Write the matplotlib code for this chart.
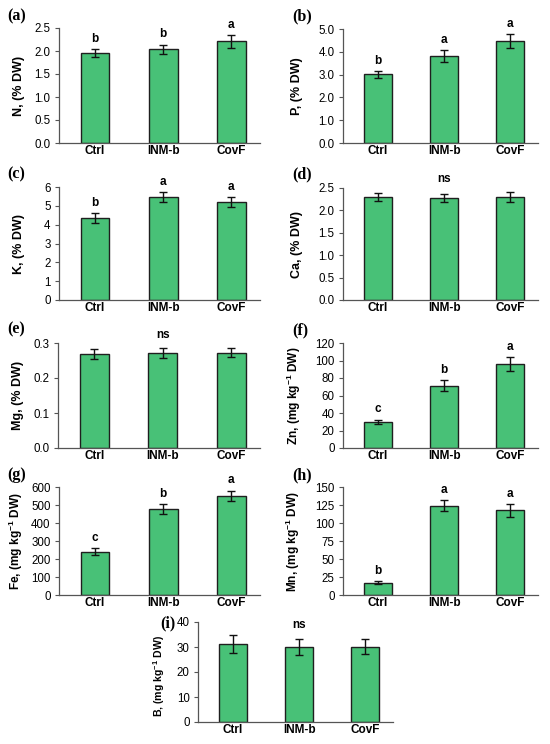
import matplotlib
matplotlib.use("Agg")
import matplotlib.pyplot as plt
from matplotlib.ticker import MultipleLocator, FormatStrFormatter

plt.rcParams['font.family'] = ['Liberation Sans', 'DejaVu Sans']
plt.rcParams['mathtext.fontset'] = 'custom'
plt.rcParams['mathtext.rm'] = 'Liberation Sans'
plt.rcParams['mathtext.bf'] = 'Liberation Sans:bold'

categories = ["Ctrl", "INM-b", "CovF"]

N_mean = [1.95, 2.04, 2.21]
N_sd = [0.085, 0.10, 0.14]
N_let = ["b", "b", "a"]

P_mean = [3.01, 3.82, 4.46]
P_sd = [0.14, 0.26, 0.30]
P_let = ["b", "a", "a"]

K_mean = [4.35, 5.47, 5.19]
K_sd = [0.27, 0.25, 0.27]
K_let = ["b", "a", "a"]

Ca_mean = [2.30, 2.28, 2.29]
Ca_sd = [0.09, 0.095, 0.11]

Mg_mean = [0.268, 0.272, 0.272]
Mg_sd = [0.014, 0.014, 0.013]

Zn_mean = [29.7, 71.2, 96.0]
Zn_sd = [2.8, 6.0, 8.0]
Zn_let = ["c", "b", "a"]

Fe_mean = [241.6, 479.5, 552.0]
Fe_sd = [18.0, 27.0, 28.0]
Fe_let = ["c", "b", "a"]

Mn_mean = [17.2, 124.0, 117.5]
Mn_sd = [2.5, 7.7, 8.7]
Mn_let = ["b", "a", "a"]

B_mean = [31.4, 30.1, 30.1]
B_sd = [3.6, 3.3, 3.0]

W, H = 550, 744
fig = plt.figure(figsize=(W / 100, H / 100), dpi=100)

bar_color = "#48C177"
edge_color = "#1f1f1f"
axis_color = "#555555"

unit = r" (mg kg$^{\mathbf{-1}}$ DW)"
# label, axes px box, mean, sd, letters, ylabel, ylabel size, ylabel offset px, ylabel y frac,
# ymax, step, fmt, panel label px, ns offset px
panels = [
    ("(a)", (59, 28, 260, 143), N_mean, N_sd, N_let, "N, (% DW)", 9, 34, 0.5, 2.5, 0.5, "%.1f", (7, 16), None),
    ("(b)", (343, 29, 538, 143), P_mean, P_sd, P_let, "P, (% DW)", 9, 40, 0.5, 5.0, 1.0, "%.1f", (292, 16), None),
    ("(c)", (59, 187, 260, 300), K_mean, K_sd, K_let, "K, (% DW)", 9, 34, 0.5, 6, 1, "%d", (7, 174), None),
    ("(d)", (343, 188, 538, 300), Ca_mean, Ca_sd, None, "Ca, (% DW)", 9, 40, 0.5, 2.5, 0.5, "%.1f", (292, 174), 9),
    ("(e)", (58, 343, 260, 448), Mg_mean, Mg_sd, None, "Mg, (% DW)", 9, 34, 0.5, 0.3, 0.1, "%.1f", (7, 329), 8),
    ("(f)", (343, 343, 538, 448), Zn_mean, Zn_sd, Zn_let, "Zn," + unit, 8.6, 40, 0.5, 120, 20, "%d", (292, 330), None),
    ("(g)", (59, 487, 260, 595), Fe_mean, Fe_sd, Fe_let, "Fe," + unit, 8.6, 34, 0.5, 600, 100, "%d", (7, 475), None),
    ("(h)", (343, 487, 538, 595), Mn_mean, Mn_sd, Mn_let, "Mn," + unit, 8.6, 41, 0.5, 150, 25, "%d", (292, 475), None),
    ("(i)", (198, 622, 393, 722), B_mean, B_sd, None, "B," + unit, 7.6, 31, 0.46, 40, 10, "%d", (160, 623), -3),
]

x = list(range(len(categories)))
for (lab, (l, t, r, b), mean, sd, lets, ylabel, ysize, yoff, yfrac,
     ymax, step, fmt, (lx, ly), nsoff) in panels:
    ax = fig.add_axes([l / W, 1 - b / H, (r - l) / W, (b - t) / H])
    ax.bar(x, mean, width=0.42, color=bar_color, edgecolor=edge_color, linewidth=1.0, zorder=2)
    ax.errorbar(x, mean, yerr=sd, fmt="none", ecolor="#111111", elinewidth=1.0,
                capsize=3, capthick=1.0, zorder=3)
    ax.set_xlim(-0.53, 2.42)
    ax.set_ylim(0, ymax)
    ax.yaxis.set_major_locator(MultipleLocator(step))
    ax.yaxis.set_major_formatter(FormatStrFormatter(fmt))
    ax.set_xticks(x)
    ax.set_xticklabels(categories, fontweight="bold", fontsize=8.5)
    ax.tick_params(axis="x", length=0, pad=1.5)
    ax.tick_params(axis="y", length=3, width=0.8, color=axis_color, labelsize=8.3, pad=3)
    for s in ["top", "right"]:
        ax.spines[s].set_visible(False)
    for s in ["left", "bottom"]:
        ax.spines[s].set_color(axis_color)
        ax.spines[s].set_linewidth(0.9)
    ax.set_ylabel(ylabel, fontweight="bold", fontsize=ysize)
    ax.yaxis.set_label_coords(-yoff / (r - l), yfrac)
    if lets is not None:
        for xi, m, s, letter in zip(x, mean, sd, lets):
            ax.annotate(letter, (xi, m + s), xytext=(0, 3), textcoords="offset points",
                        ha="center", va="bottom", fontweight="bold", fontsize=8.5,
                        annotation_clip=False)
    else:
        ax.text(1, 1 + nsoff / (b - t), "ns", transform=ax.get_xaxis_transform(), ha="center",
                va="center", fontweight="bold", fontsize=8.5, clip_on=False)
    fig.text(lx / W, 1 - ly / H, lab, family="Liberation Serif", fontweight="bold",
             fontsize=11.5, ha="left", va="center")

fig.savefig("out.png", dpi=100, facecolor="white")
